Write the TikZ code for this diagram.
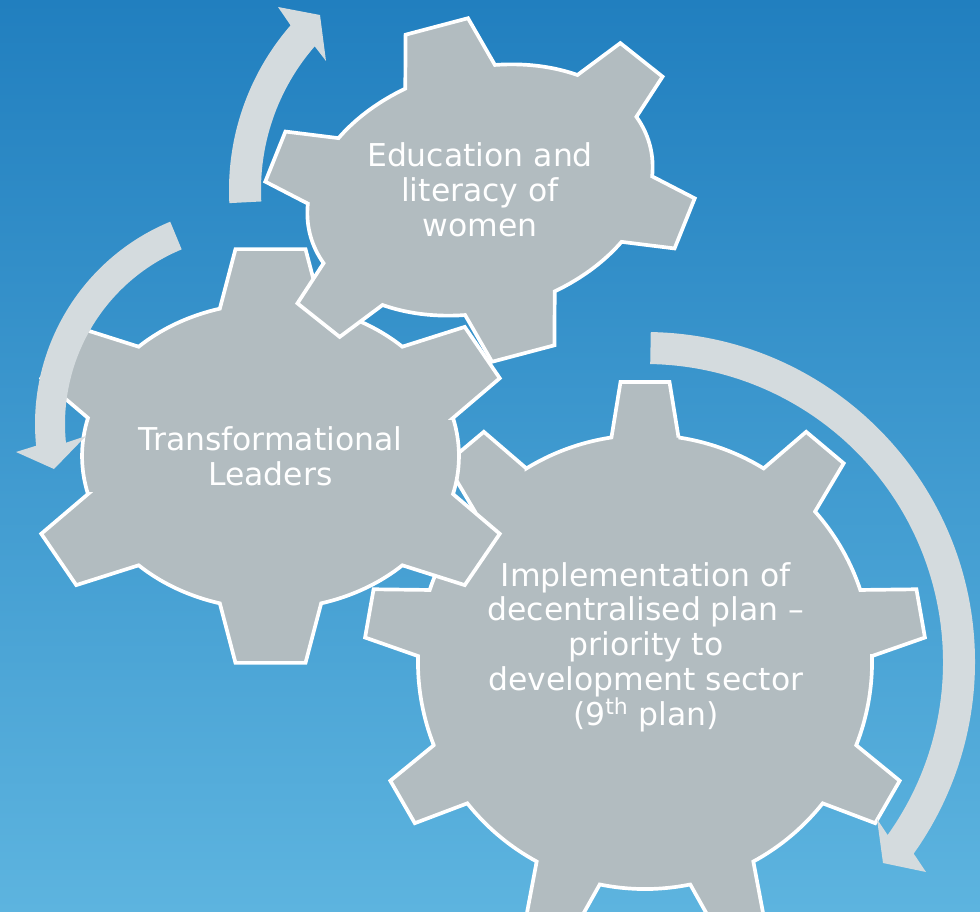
\documentclass[tikz,border=0pt]{standalone}
\usepackage{fontspec}
\setmainfont{DejaVu Sans}
\definecolor{bgtop}{RGB}{33,127,191}
\definecolor{bgbot}{RGB}{93,180,223}
\definecolor{gearfill}{RGB}{178,188,192}
\definecolor{arrowfill}{RGB}{212,219,222}
% #1 teeth, #2 first tooth angle, #3 tip half angle, #4 base half angle,
% #5 body x radius, #6 body y radius (tip radius = 1)
\newcommand{\mygear}[6]{%
  \pgfmathsetmacro\gstep{360/#1}%
  \pgfmathtruncatemacro\glast{#1-1}%
  \draw[gear] ({#5*cos(#2-#4)},{#6*sin(#2-#4)})
    \foreach \k [evaluate=\k as \ga using {#2+\gstep*\k},
                 evaluate=\k as \gs using {#2+\gstep*\k+#4},
                 evaluate=\k as \ge using {#2+\gstep*(\k+1)-#4}] in {0,...,\glast} {
      -- ({#5*cos(\ga-#4)},{#6*sin(\ga-#4)})
      -- ({cos(\ga-#3)},{sin(\ga-#3)})
      -- ({cos(\ga+#3)},{sin(\ga+#3)})
      -- plot[domain=\gs:\ge, samples=18] ({#5*cos(\x)},{#6*sin(\x)})
    } -- cycle;}
\begin{document}
\begin{tikzpicture}[x=0.02cm,y=0.02cm,
  gear/.style={fill=gearfill, draw=white, line width=2.1pt, line join=miter},
  cycarrow/.style={fill=arrowfill, draw=none},
  geartext/.style={text=white, align=center, inner sep=0pt,
    font=\fontsize{17.9pt}{19.8pt}\selectfont}]
\useasboundingbox (0,0) rectangle (980,-912);
\shade[top color=bgtop, bottom color=bgbot] (0,0) rectangle (980,-912);
\clip (0,0) rectangle (980,-912);

% big gear (Implementation)
\begin{scope}[shift={(645,-662)}, scale=281]
  \mygear{9}{90}{5}{8.5}{0.808}{0.808}
\end{scope}

% left gear (Transformational Leaders)
\begin{scope}[shift={(270.5,-456)}, xscale=247, yscale=209]
  \mygear{6}{90}{8.15}{15.6}{0.763}{0.732}
\end{scope}

% top gear (Education)
\begin{scope}[shift={(480,-190)}, rotate=14.8, xscale=221, yscale=171]
  \mygear{6}{90}{8.4}{15.3}{0.795}{0.71}
\end{scope}

% circular arrows
\begin{scope}[shift={(480,-190)}]
  \fill[cycarrow] (183:251) arc[start angle=183, end angle=139, radius=251]
    -- (-202,183) -- (-160,175) -- (-154,129)
    -- (139:219) arc[start angle=139, end angle=183, radius=219] -- cycle;
\end{scope}
\begin{scope}[shift={(254,-424)}]
  \fill[cycarrow] (112.5:219) arc[start angle=112.5, end angle=185.7, radius=219]
    -- (-238,-28) -- (-200,-45) -- (-168,-12)
    -- (185.7:189) arc[start angle=185.7, end angle=112.5, radius=189] -- cycle;
\end{scope}
\begin{scope}[shift={(645,-662)}]
  \fill[cycarrow] (89:330) arc[start angle=89, end angle=-35.5, radius=330]
    -- (281,-210) -- (238,-201) -- (232,-157)
    -- (-35.5:298) arc[start angle=-35.5, end angle=89, radius=298] -- cycle;
\end{scope}

% texts
\node[geartext] (edu) at (480,-190) {Education and\\literacy of\\women};
\node[geartext] (trans) at (270.5,-456) {Transformational\\Leaders};
\node[geartext] (impl) at (646,-647) {Implementation of\\decentralised plan –\\priority to\\development sector\\(9\textsuperscript{th} plan)};
\end{tikzpicture}
\end{document}
